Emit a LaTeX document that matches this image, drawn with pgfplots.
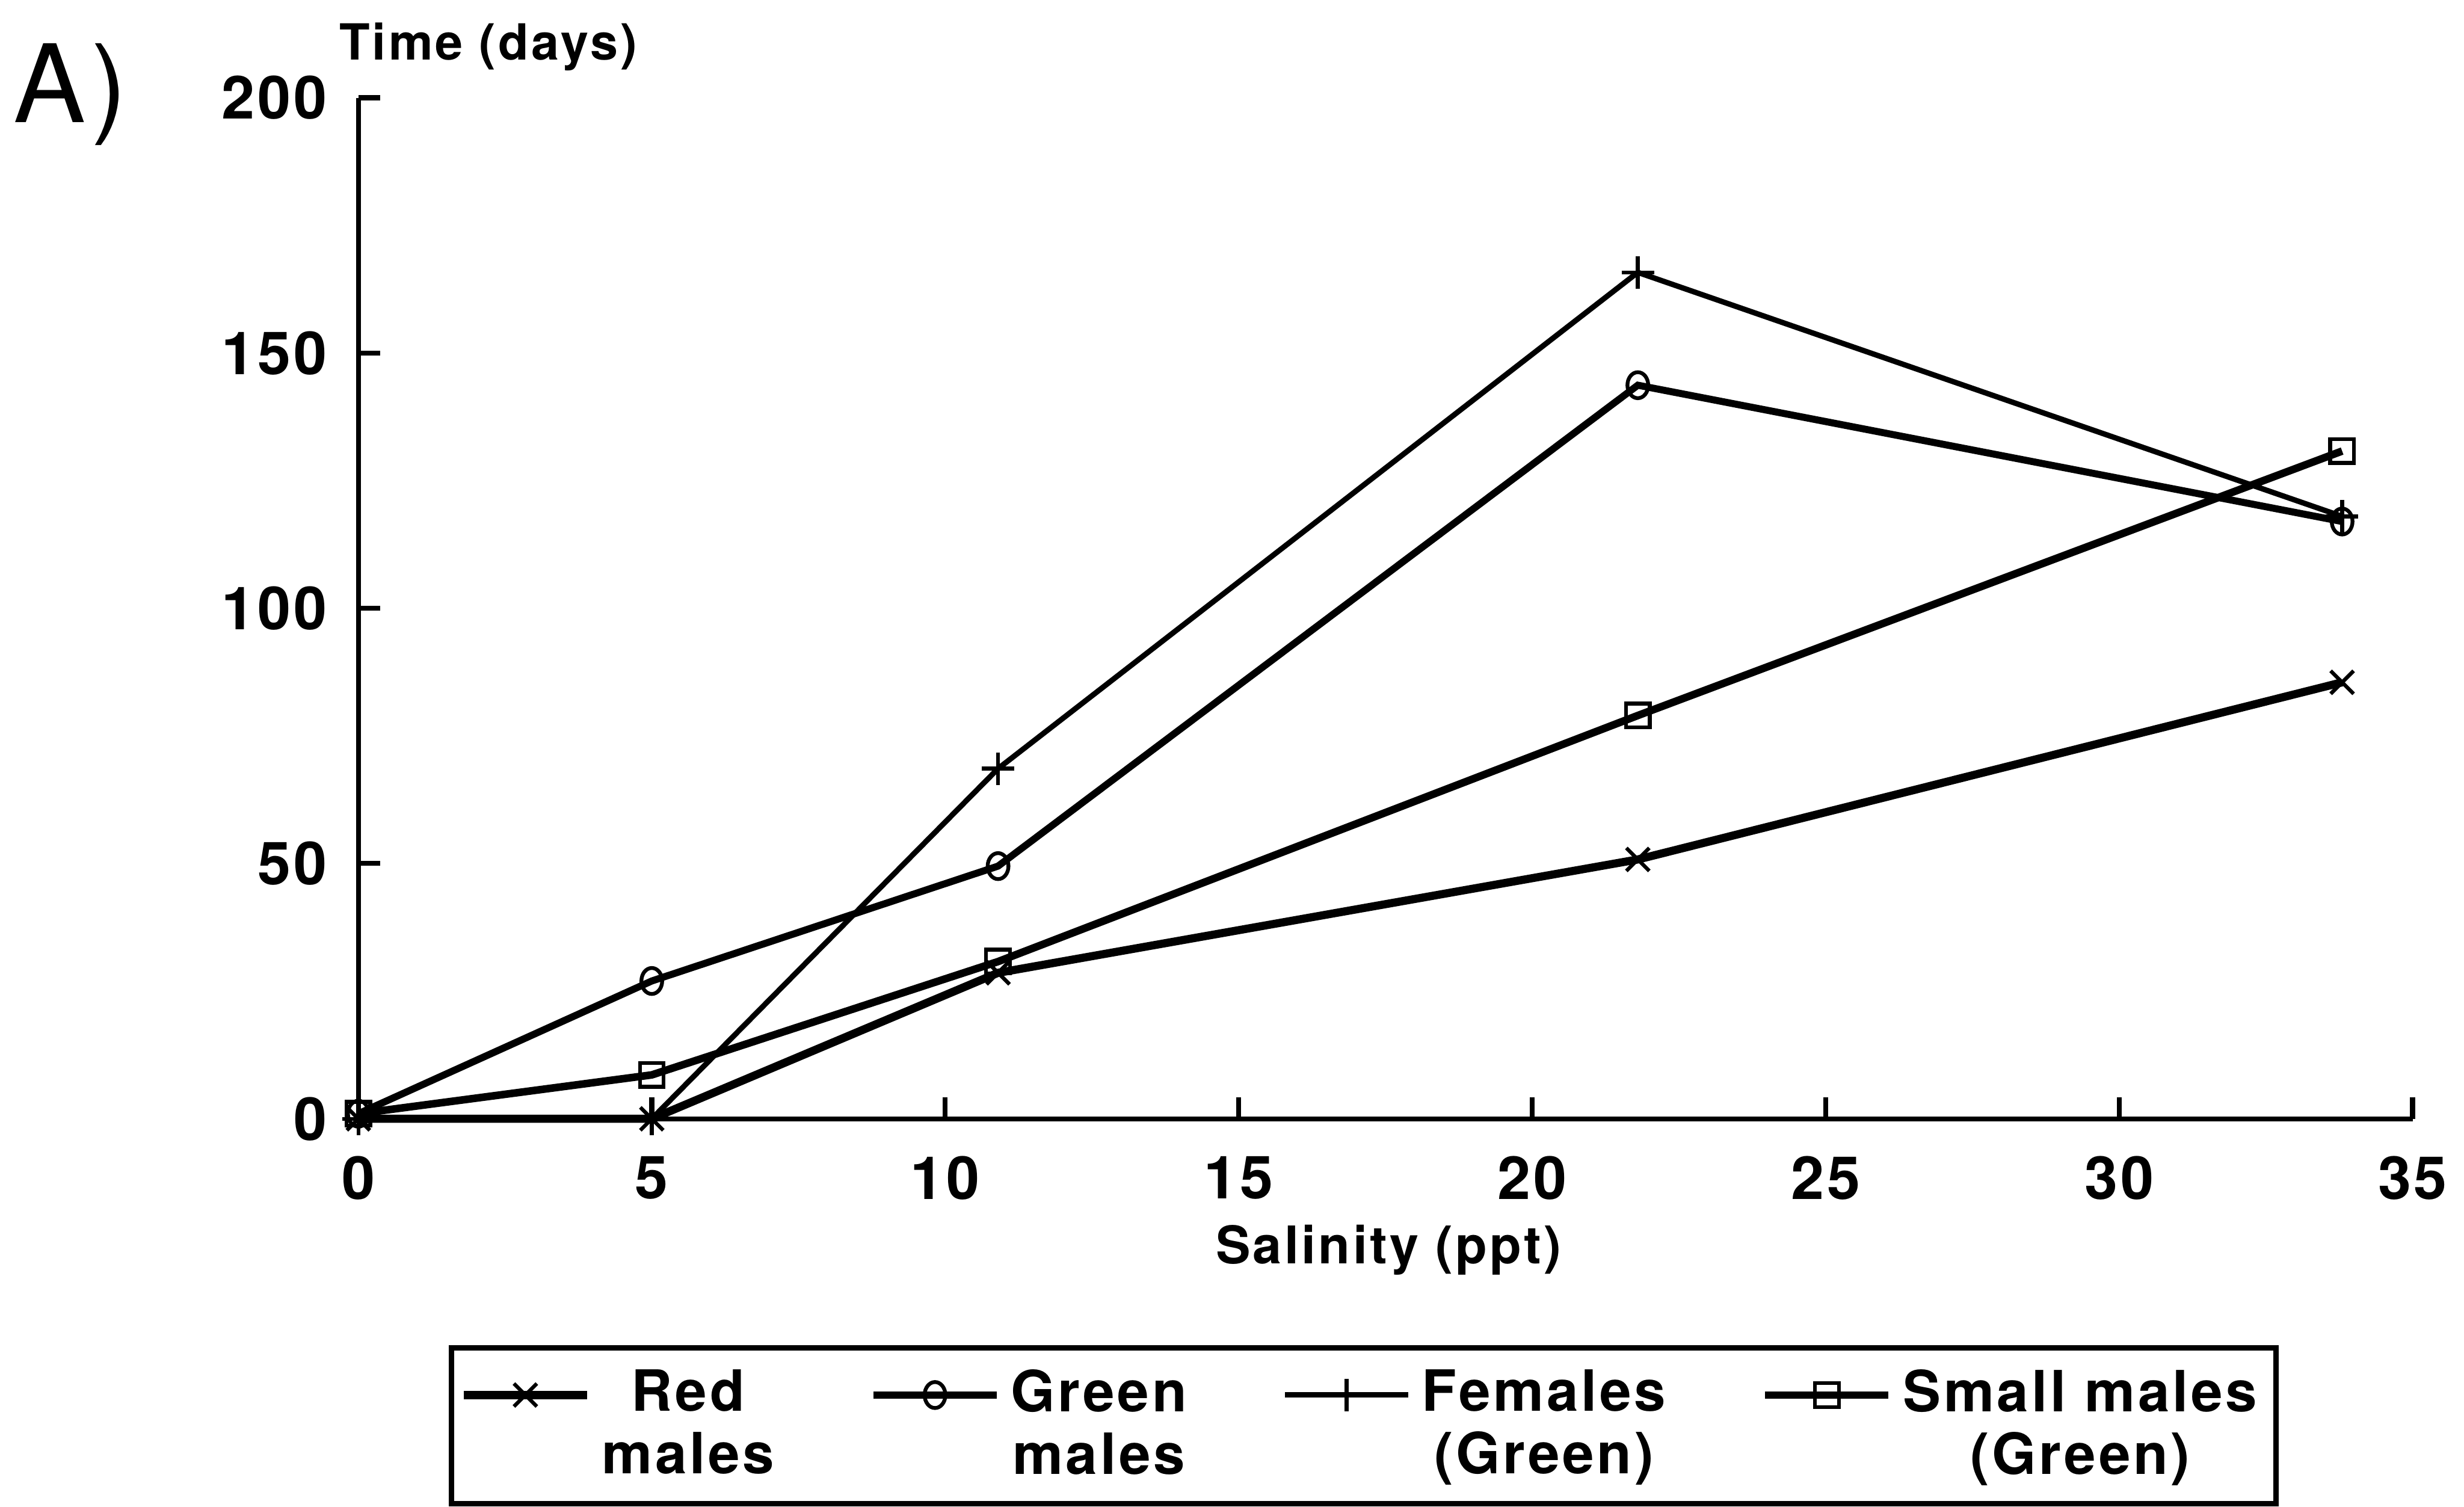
\documentclass[border=0pt]{standalone}
\usepackage{pgfplots}
\pgfplotsset{compat=1.18}
\usepackage{fontspec}
\setmainfont{TeX Gyre Heros}[LetterSpace=5]
\begin{document}
\begin{tikzpicture}
\path[use as bounding box] (-2.327,-2.52) rectangle (13.674,7.265);
\begin{axis}[
  scale only axis, width=13.34cm, height=6.63cm,
  xmin=0, xmax=35, ymin=0, ymax=200,
  axis x line=bottom, axis y line=left,
  axis line style={-, line width=0.9pt},
  xtick={0,5,...,35}, ytick={0,50,...,200},
  tick align=inside, major tick length=0.14cm,
  tick style={line width=0.9pt, black},
  /pgf/number format/assume math mode=true,
  tick label style={font=\bfseries\fontsize{11}{13}\selectfont},
  xticklabel style={yshift=-0.12cm},
  yticklabel style={xshift=-0.08cm},
  clip=false,
  legend image code/.code={
    \draw[mark repeat=2,mark phase=2] plot coordinates {(0cm,0.2cm) (0.4cm,0.2cm) (0.8cm,0.2cm)};
  },
  legend columns=4,
  legend style={
    at={(axis description cs:0.4895,-0.2215)}, anchor=north,
    draw=black, line width=1pt,
    font=\bfseries\fontsize{10.5}{11.6}\selectfont,
    cells={align=center},
    inner xsep=1.5pt, inner ysep=2pt,
    /tikz/every even column/.append style={column sep=0.55cm},
  },
]
\addplot[black, line width=1.5pt, mark=x, mark size=3pt, mark options={line width=0.7pt}]
  coordinates {(0,0) (5,0) (10.9,28.6) (21.8,50.8) (33.8,85.5)};
\addlegendentry{Red\\males}
\addplot[black, line width=1.3pt, mark=o, mark size=2.4pt, mark options={line width=0.7pt, xscale=0.8}]
  coordinates {(0,1) (5,27) (10.9,49.5) (21.8,143.7) (33.8,117)};
\addlegendentry{Green\\males}
\addplot[black, line width=1.0pt, mark=+, mark size=3pt, mark options={line width=0.7pt}]
  coordinates {(0,0) (5,0) (10.9,68.6) (21.8,165.8) (33.8,118)};
\addlegendentry{Females\\(Green)}
\addplot[black, line width=1.4pt, mark=square, mark size=2.2pt, mark options={line width=0.7pt}]
  coordinates {(0,1) (5,8.6) (10.9,30.8) (21.8,79) (33.8,130.8)};
\addlegendentry{Small males\\(Green)}
\end{axis}
\node[anchor=west, font=\fontsize{20}{24}\selectfont, inner sep=0pt] at (-2.245,6.65) {A)};
\node[anchor=west, font=\bfseries\fontsize{9.2}{11}\selectfont, inner sep=0pt] at (-0.13,6.96) {Time (days)};
\node[font=\bfseries\fontsize{9.6}{11}\selectfont, inner sep=0pt] at (6.69,-0.85) {Salinity (ppt)};
\end{tikzpicture}
\end{document}
